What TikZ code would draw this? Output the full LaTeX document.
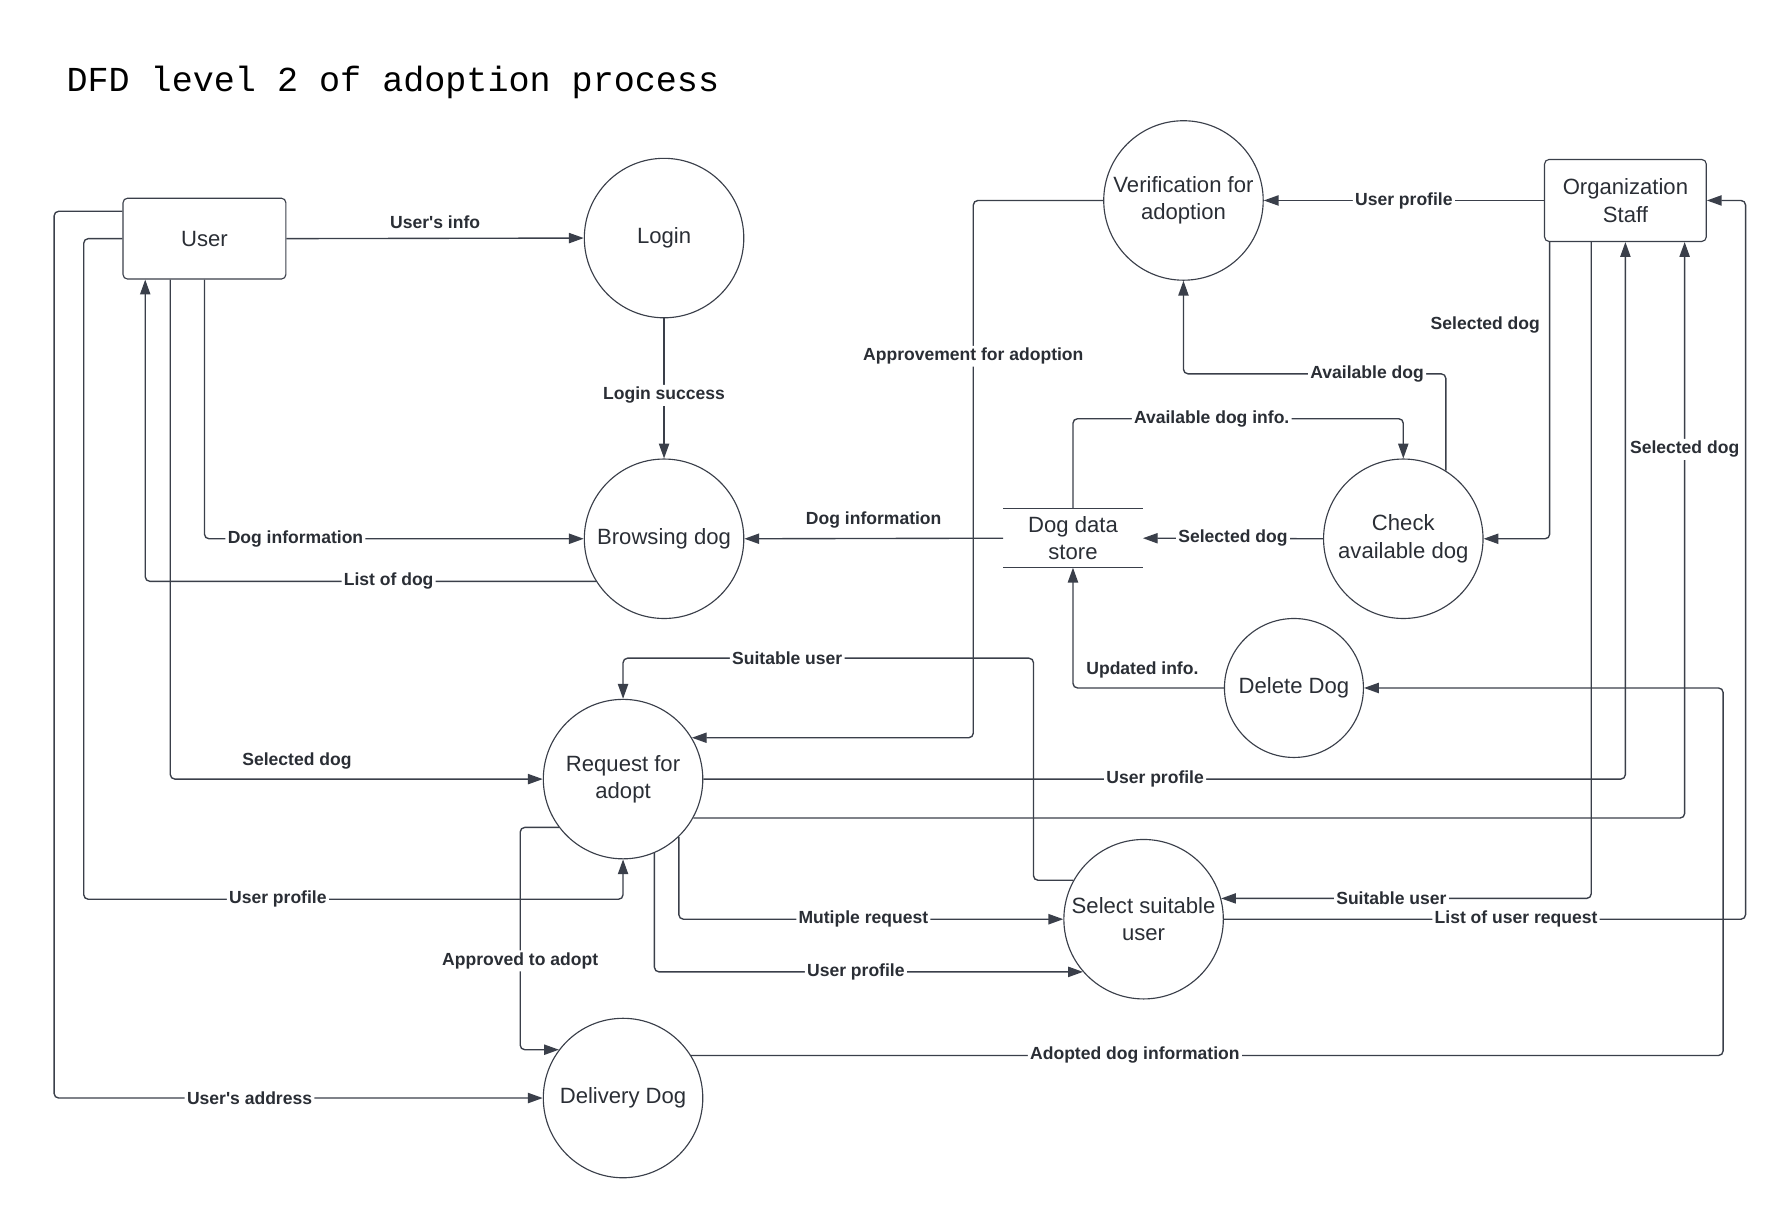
\documentclass[tikz,border=0pt]{standalone}
\usepackage{fontspec}
\setmainfont{Liberation Sans}
\setmonofont{Liberation Mono}
\usetikzlibrary{arrows.meta,positioning,calc}
\definecolor{linec}{HTML}{3A3F4A}
\definecolor{textc}{HTML}{2A2E35}

\begin{document}
\begin{tikzpicture}[
    x=0.5pt, y=-0.5pt,
    font=\fontsize{9.7}{12}\selectfont, text=textc,
    proc/.style={draw=linec, circle, minimum size=70pt, inner sep=0pt, align=center, line width=0.5pt},
    ent/.style={draw=linec, rounded corners=2pt, minimum width=71.5pt, minimum height=35.5pt, align=center, line width=0.5pt},
    arr/.style={-{Triangle[length=6.5pt,width=4.5pt]}, draw=linec, line width=0.6pt, rounded corners=2pt},
    lbl/.style={font=\bfseries\fontsize{7.7}{9}\selectfont, fill=white, inner sep=1pt}
  ]
    \useasboundingbox (0,0) rectangle (1568,1070);
    \node[anchor=west, inner sep=0pt, text=black, font=\ttfamily\fontsize{15.4}{18}\selectfont] (title) at (58,72) {DFD level 2 of adoption process};
    \node[ent] (user) at (179.5,209.5) {User};
    \node[ent, minimum width=71pt, minimum height=36pt] (staff) at (1427,176) {Organization\\Staff};
    \node[proc] (login) at (583,209) {Login};
    \node[proc] (browse) at (583,473) {Browsing dog};
    \node[proc] (verif) at (1039,176) {Verification for\\adoption};
    \node[proc] (check) at (1232,473) {Check\\available dog};
    \node[proc, minimum size=61pt] (delete) at (1136,604) {Delete Dog};
    \node[proc] (req) at (547,684) {Request for\\adopt};
    \node[proc] (select) at (1004,807) {Select suitable\\user};
    \node[proc] (deliv) at (547,964) {Delivery Dog};
    \node[minimum width=61pt, minimum height=25.5pt, inner sep=0pt, align=center] (store) at (942,472.5) {Dog data\\store};
    \draw[linec, line width=0.5pt] (store.north west) -- (store.north east) (store.south west) -- (store.south east);

    \draw[arr] (user.east) -- node[lbl, above=3pt]{User\textquotesingle s info} (login.west);
    \draw[arr] (login.south) -- node[lbl, pos=0.55]{Login success} (browse.north);
    \draw[arr] (user.south) |- node[lbl, pos=0.62]{Dog information} (browse.west);
    \draw[arr] (browse.-148) -| node[lbl, pos=0.23]{List of dog} ($(user.south west)+(20,0)$);
    \draw[arr] ($(user.south)+(-30,0)$) |- node[lbl, pos=0.67, above=3pt]{Selected dog} (req.west);
    \draw[arr] (user.west) -- ++(-34,0) |- node[lbl, pos=0.68]{User profile} ($(req.south)+(0,35)$) -- (req.south);
    \draw[arr] ($(user.west)+(0,-24)$) -- ++(-60,0) |- node[lbl, pos=0.70]{User\textquotesingle s address} (deliv.west);

    \draw[arr] (store.west) -- node[lbl, above=3pt]{Dog information} (browse.east);
    \draw[arr] (check.west) -- node[lbl]{Selected dog} (store.east);
    \draw[arr] (store.north) -- ++(0,-79) -| node[lbl, pos=0.21]{Available dog info.} (check.north);
    \draw[arr] (check.58) -- ++(0,-85) -| node[lbl, pos=0.15]{Available dog} (verif.south);
    \draw[arr] (staff.west) -- node[lbl]{User profile} (verif.east);
    \draw[arr] ($(staff.south west)+(5,0)$) |- node[lbl, pos=0.14, left=3pt]{Selected dog} (check.east);
    \draw[arr] (verif.west) -- ++(-114,0) |- node[lbl, pos=0.145]{Approvement for adoption} (req.31);
    \draw[arr] (delete.west) -| node[lbl, pos=0.27, above=3pt]{Updated info.} (store.south);
    \draw[arr] (deliv.32) -- node[lbl, pos=0.43]{Adopted dog information} ++(906,0) |- (delete.east);

    \draw[arr] (req.east) -| node[lbl, pos=0.245]{User profile} (staff.south);
    \draw[arr] (req.-29) -| node[lbl, pos=0.82]{Selected dog} ($(staff.south)+(52,0)$);
    \draw[arr] (select.east) -- node[lbl, pos=0.56]{List of user request} ++(458,0) |- (staff.east);
    \draw[arr] ($(staff.south)+(-30,0)$) |- node[lbl, pos=0.77]{Suitable user} (select.15);
    \draw[arr] (select.151) -- ++(-35,0) -- ++(0,-195) -| node[lbl, pos=0.3]{Suitable user} (req.north);
    \draw[arr] (req.-46) |- node[lbl, pos=0.74]{Mutiple request} (select.west);
    \draw[arr] (req.-67) |- node[lbl, pos=0.735]{User profile} (select.-139);
    \draw[arr] (req.-143) -- ++(-34,0) |- node[lbl, pos=0.3]{Approved to adopt} (deliv.143);
  \end{tikzpicture}
\end{document}
